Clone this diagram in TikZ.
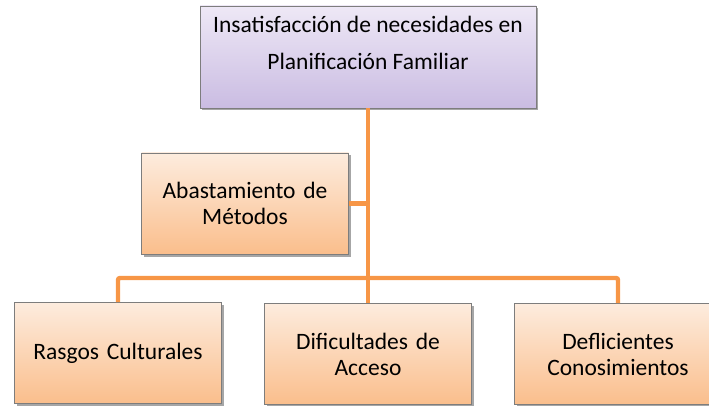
\documentclass[tikz,border=0pt]{standalone}
\usepackage{fontspec}
\setmainfont{Carlito}
\usetikzlibrary{shadows}
\definecolor{peachT}{RGB}{253,236,222}
\definecolor{peachB}{RGB}{250,190,140}
\definecolor{lilT}{RGB}{238,232,246}
\definecolor{lilB}{RGB}{202,188,226}
\definecolor{connc}{RGB}{247,150,70}
\definecolor{edgec}{RGB}{125,125,125}
\begin{document}
\begin{tikzpicture}[x=1pt,y=-1pt,
  boxbase/.style={draw=edgec, line width=0.8pt, inner sep=0pt, align=center,
    font=\fontsize{23.5}{26}\selectfont,
    drop shadow={shadow xshift=2pt, shadow yshift=-2.5pt, fill=black, opacity=0.35}},
  peachbox/.style={boxbase, top color=peachT, bottom color=peachB,
    minimum width=207pt, minimum height=101pt, text width=200pt},
  lilbox/.style={boxbase, top color=lilT, bottom color=lilB,
    minimum width=336pt, minimum height=102pt},
  link/.style={draw=connc, line width=4.4pt, rounded corners=2pt}
]
\useasboundingbox (0,0) rectangle (709,406);
\clip (0,0) rectangle (709,406);

\node[lilbox] (top) at (368,57)
  {\parbox[c][102pt][t]{334pt}{\vspace*{10pt}\centering\fontsize{23.5}{37}\selectfont Insatisfacción de necesidades en\\Planificación Familiar}};
\node[peachbox] (abast) at (245,203.5) {Abastamiento de\\Métodos};
\node[peachbox] (rasgos) at (118,353) {Rasgos Culturales};
\node[peachbox] (dific) at (368,354) {Dificultades de\\Acceso};
\node[peachbox] (defl) at (618,354) {Deflicientes\\Conosimientos};

\coordinate (j) at (368,278);
\draw[link] (top.south) -- (j);
\draw[link] (abast.east) -- (abast.east -| top.south);
\draw[link] (rasgos.north) |- (j) -| (defl.north);
\draw[link] (j) -- (dific.north);
\end{tikzpicture}
\end{document}
